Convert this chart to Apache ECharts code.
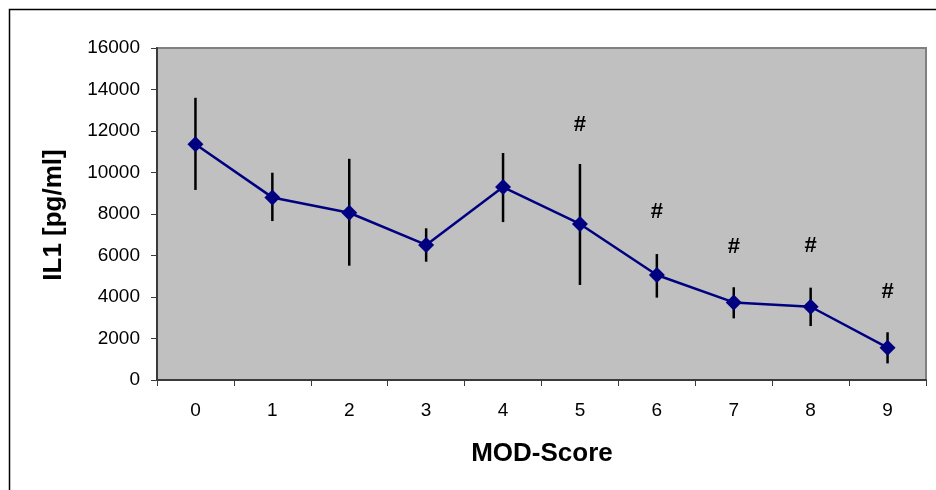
<!DOCTYPE html>
<html>
<head>
<meta charset="utf-8">
<script src="https://cdn.jsdelivr.net/npm/echarts@6/dist/echarts.min.js"></script>
<style>
  html, body { margin: 0; padding: 0; background: #fff; }
  #chart { width: 936px; height: 490px; }
</style>
</head>
<body>
<div id="chart"></div>
<script>
// MOD-Score categories and IL1 means with error ranges
const categories = ['0', '1', '2', '3', '4', '5', '6', '7', '8', '9'];
const il1Mean  = [11360, 8800, 8060, 6510, 9300, 7520, 5060, 3740, 3530, 1560];
const il1Upper = [13600, 9990, 10660, 7310, 10940, 10410, 6070, 4470, 4450, 2300];
const il1Lower = [9160, 7660, 5510, 5700, 7610, 4580, 3970, 2970, 2600, 800];
// significance markers (#) and the height they sit at
const hashMarks = ['', '', '', '', '', '#', '#', '#', '#', '#'];
const hashY     = [null, null, null, null, null, 12290, 8100, 6410, 6450, 4240];
const yTicks = { min: 0, max: 16000, step: 2000 };

const FONT = '"Liberation Sans", Arial, sans-serif';
const chart = echarts.init(document.getElementById('chart'), null, { renderer: 'canvas' });

const errData = categories.map((c, i) => [i, il1Lower[i], il1Upper[i]]);
const hashData = categories.map((c, i) => hashY[i] == null ? null : [i, hashY[i], hashMarks[i]]).filter(d => d);

chart.setOption({
  animation: false,
  backgroundColor: '#ffffff',
  grid: {
    left: 157, right: 10, top: 48, bottom: 110,
    show: true, backgroundColor: '#c0c0c0', borderColor: '#808080', borderWidth: 2
  },
  xAxis: {
    type: 'category',
    data: categories,
    boundaryGap: true,
    axisLine: { lineStyle: { color: '#3a3a3a', width: 2 } },
    axisTick: { show: true, interval: 0, length: 6, lineStyle: { color: '#3a3a3a', width: 1 } },
    axisLabel: { color: '#000', fontFamily: FONT, fontSize: 19, margin: 21 },
    splitLine: { show: false }
  },
  yAxis: {
    type: 'value',
    min: yTicks.min, max: yTicks.max, interval: yTicks.step,
    axisLine: { show: true, lineStyle: { color: '#3a3a3a', width: 2 } },
    axisTick: { show: true, length: 6, lineStyle: { color: '#3a3a3a', width: 1 } },
    axisLabel: { color: '#000', fontFamily: FONT, fontSize: 19, margin: 17, formatter: v => String(v) },
    splitLine: { show: false }
  },
  graphic: [
    {
      type: 'rect', silent: true, z: 0,
      shape: { x: 9.5, y: 9.5, width: 1000, height: 1000 },
      style: { fill: 'none', stroke: '#000', lineWidth: 1.5 }
    },
    {
      type: 'text', x: 54, y: 215, rotation: Math.PI / 2,
      style: { text: 'IL1 [pg/ml]', font: 'bold 26px ' + FONT, fill: '#000', textAlign: 'center', textVerticalAlign: 'middle' }
    },
    {
      type: 'text', x: 542, y: 454,
      style: { text: 'MOD-Score', font: 'bold 26px ' + FONT, fill: '#000', textAlign: 'center', textVerticalAlign: 'middle' }
    }
  ],
  series: [
    {
      type: 'custom',
      z: 2,
      data: errData,
      renderItem: function (params, api) {
        const x = api.value(0);
        const lo = api.coord([x, api.value(1)]);
        const hi = api.coord([x, api.value(2)]);
        return {
          type: 'line',
          shape: { x1: lo[0], y1: lo[1], x2: hi[0], y2: hi[1] },
          style: { stroke: '#000', lineWidth: 2.5 }
        };
      }
    },
    {
      type: 'line',
      z: 3,
      data: il1Mean,
      symbol: 'diamond',
      symbolSize: 16,
      lineStyle: { color: '#000080', width: 2.5 },
      itemStyle: { color: '#000080' }
    },
    {
      type: 'custom',
      z: 4,
      data: hashData,
      renderItem: function (params, api) {
        const p = api.coord([api.value(0), api.value(1)]);
        return {
          type: 'text',
          x: p[0], y: p[1],
          style: {
            text: hashData[params.dataIndex][2],
            font: 'bold 22px ' + FONT, fill: '#000',
            textAlign: 'center', textVerticalAlign: 'middle'
          }
        };
      }
    }
  ]
});
</script>
</body>
</html>
